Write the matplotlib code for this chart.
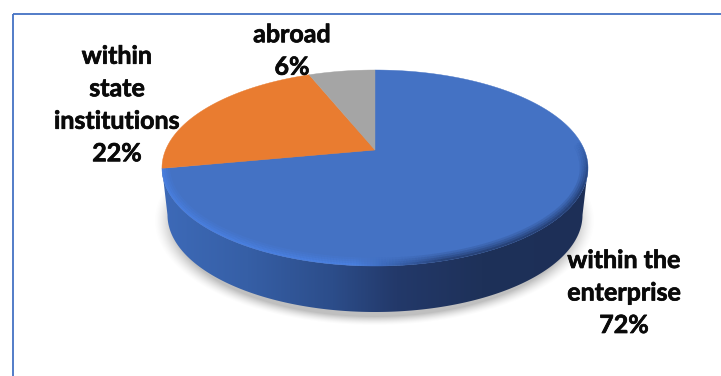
import numpy as np
import matplotlib
matplotlib.use('Agg')
import matplotlib.pyplot as plt
import matplotlib.patheffects as pe
from matplotlib.patches import Polygon, Rectangle
from matplotlib.collections import LineCollection
from matplotlib.colors import LinearSegmentedColormap

# slice shares, clockwise from twelve o'clock
labels = ['within the\nenterprise', 'within\nstate\ninstitutions', 'abroad']
shares = [72, 22, 6]
colors = ['#4472c4', '#e97c30', '#a5a5a5']
label_xy = [(624, 293), (117, 105), (292, 51)]

plt.rcParams['font.family'] = ['Lato', 'DejaVu Sans']

fig = plt.figure(figsize=(7.21, 3.76), dpi=100)
ax = fig.add_axes([0, 0, 1, 1])

# disc geometry in pixels, k is the perspective strength
cx, cy = 375, 150
A, B, k = 209.4, 94.7, 0.1837


def disc(theta):
    # theta is clockwise from the top of the disc
    u, v = np.sin(theta), np.cos(theta)
    w = 1 + k * v
    return cx + A * u / w, cy - B * v / w


# soft shadow under the disc
yy, xx = np.mgrid[0:376, 0:721]
d = np.sqrt(((xx - 374) / 212.0) ** 2 + ((yy - 220) / 101.0) ** 2)
shadow = np.zeros((376, 721, 4))
shadow[..., :3] = 0.5
shadow[..., 3] = 0.5 * np.clip((1.04 - d) / 0.09, 0, 1) ** 1.5
ax.imshow(shadow, extent=(0, 721, 376, 0), zorder=1, interpolation='bilinear')

# side wall, shaded from left to right
t = np.linspace(np.pi / 2, 3 * np.pi / 2, 300)
top_x = 375 + 213 * np.sin(t)
top_y = 168 - 98 * np.cos(t)
bot_x = 375 + 207.5 * np.sin(t)
bot_y = 215 - 97 * np.cos(t)
wall = np.column_stack([np.r_[top_x, bot_x[::-1]], np.r_[top_y, bot_y[::-1]]])
wall_cmap = LinearSegmentedColormap.from_list('wall', [
    (0.0, '#3d6ab8'), (0.2, '#365fa6'), (0.4, '#2c4d8a'), (0.55, '#23396a'),
    (0.75, '#1e3159'), (1.0, '#1d2f57')])
grad = ax.imshow(np.linspace(0, 1, 256)[None, :], extent=(162, 588, 320, 160),
                 cmap=wall_cmap, aspect='auto', zorder=2)
clip = Polygon(wall, closed=True, transform=ax.transData, fc='none', ec='none')
ax.add_patch(clip)
grad.set_clip_path(clip)

# pie slices on the top face
fracs = np.array(shares) / sum(shares)
edges = np.r_[0, np.cumsum(fracs)] * 2 * np.pi
faces = []
for i in range(len(shares)):
    th = np.linspace(edges[i], edges[i + 1], 300)
    px, py = disc(th)
    pts = np.column_stack([np.r_[cx, px], np.r_[cy, py]])
    faces.append(ax.add_patch(Polygon(pts, closed=True, fc=colors[i], ec=colors[i], lw=0.3, zorder=3)))

# bevel along the front rim, bright on the left and dark on the right
th = np.linspace(np.pi / 2 - 0.1, edges[1], 500)
px, py = disc(th)
segs = np.stack([np.column_stack([px[:-1], py[:-1]]), np.column_stack([px[1:], py[1:]])], axis=1)
mix = np.clip((px[:-1] - 355) / 90.0, 0, 1)
bright = np.array([0.30, 0.53, 0.93])
dark = np.array([0.11, 0.18, 0.34])
fade = np.clip((th[:-1] - th[0]) / 0.5, 0, 1)
for width, alpha in [(12, 0.14), (9, 0.18), (6, 0.25), (3, 0.4)]:
    rim = np.zeros((len(segs), 4))
    rim[:, :3] = bright + (dark - bright) * mix[:, None]
    rim[:, 3] = alpha * fade
    lc = LineCollection(segs, colors=rim, linewidths=width, zorder=4, capstyle='butt')
    ax.add_collection(lc)
    lc.set_clip_path(faces[0])

# frame around the chart
ax.add_patch(Rectangle((13, 14), 800, 500, fc='none', ec='#4472c4', lw=1.3, zorder=5))

# data labels, with a thin stroke to make the bold heavier
for name, share, (lx, ly) in zip(labels, shares, label_xy):
    ax.text(lx, ly, f'{name}\n{share}%', ha='center', va='center', fontsize=18,
            fontweight='bold', color='#0a0a0a', linespacing=1.5, zorder=6,
            path_effects=[pe.withStroke(linewidth=0.5, foreground='#0a0a0a')])

ax.set_aspect('auto')
ax.set_xlim(0, 721)
ax.set_ylim(376, 0)
ax.axis('off')

fig.savefig('out.png', dpi=100)
